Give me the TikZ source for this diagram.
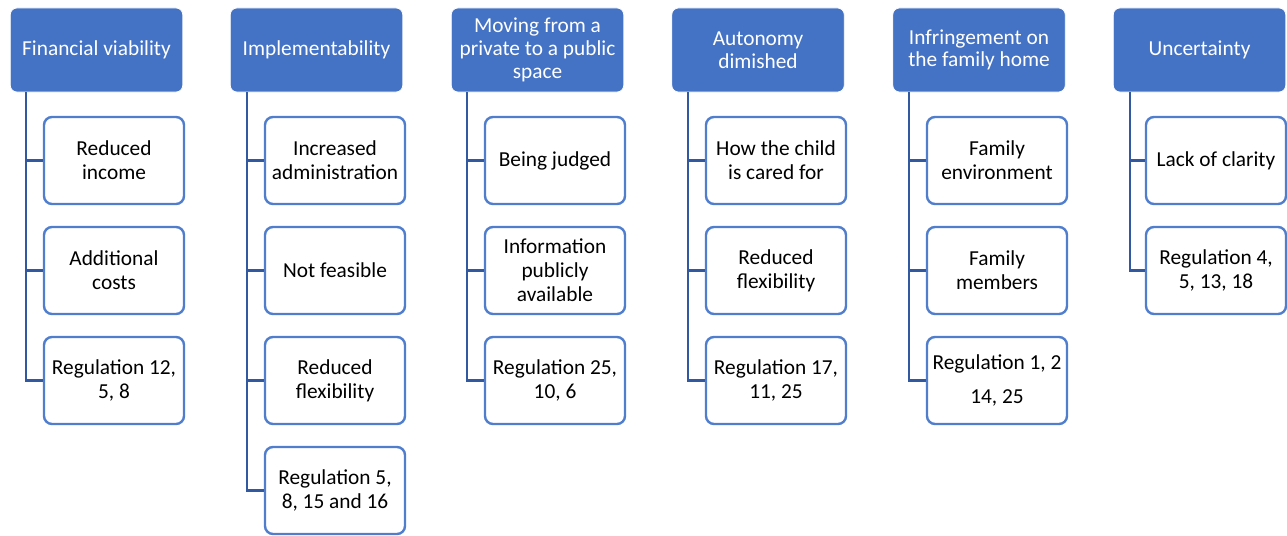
\documentclass[tikz,border=0pt]{standalone}
\usepackage{fontspec}
\setmainfont{Carlito}
\definecolor{hdrblue}{RGB}{68,114,196}
\definecolor{boxblue}{RGB}{80,126,205}
\definecolor{linkblue}{RGB}{50,88,160}
\begin{document}
\begin{tikzpicture}[x=0.75pt,y=-0.75pt,
  hdr/.style={rectangle,rounded corners=5pt,fill=hdrblue,draw=white,line width=0.6pt,
    minimum width=172.5*0.75pt,minimum height=84*0.75pt,inner sep=0pt,align=center,text=white,
    font=\fontsize{16}{17}\selectfont},
  child/.style={rectangle,rounded corners=6pt,fill=white,draw=boxblue,line width=1.8pt,
    minimum width=140*0.75pt,minimum height=87*0.75pt,inner sep=0pt,align=center,text=black,
    font=\fontsize{16}{18}\selectfont},
  link/.style={draw=linkblue,line width=1.8pt}]
\useasboundingbox (0,0) rectangle (1287,535);

% column 1
\node[hdr] (h1) at (96.5,50) {Financial viability};
\coordinate (v1) at (26,92);
\node[child] (c11) at (114,160.5) {Reduced\\income};
\node[child] (c12) at (114,270.5) {Additional\\costs};
\node[child] (c13) at (114,380.5) {Regulation 12,\\5, 8};

% column 2
\node[hdr] (h2) at (316.5,50) {Implementability};
\coordinate (v2) at (247,92);
\node[child] (c21) at (335,160.5) {Increased\\administration};
\node[child] (c22) at (335,270.5) {Not feasible};
\node[child] (c23) at (335,380.5) {Reduced\\flexibility};
\node[child] (c24) at (335,490.5) {Regulation 5,\\8, 15 and 16};

% column 3
\node[hdr] (h3) at (537.5,50) {Moving from a\\private to a public\\space};
\coordinate (v3) at (467,92);
\node[child] (c31) at (555,160.5) {Being judged};
\node[child] (c32) at (555,270.5) {Information\\publicly\\available};
\node[child] (c33) at (555,380.5) {Regulation 25,\\10, 6};

% column 4
\node[hdr] (h4) at (758,50) {Autonomy\\dimished};
\coordinate (v4) at (688,92);
\node[child] (c41) at (776,160.5) {How the child\\is cared for};
\node[child] (c42) at (776,270.5) {Reduced\\flexibility};
\node[child] (c43) at (776,380.5) {Regulation 17,\\11, 25};

% column 5
\node[hdr] (h5) at (979,50) {Infringement on\\the family home};
\coordinate (v5) at (909,92);
\node[child] (c51) at (997,160.5) {Family\\environment};
\node[child] (c52) at (997,270.5) {Family\\members};
\node[child] (c53) at (997,380.5) {Regulation 1, 2\\[7pt]14, 25};

% column 6
\node[hdr] (h6) at (1199.5,50) {Uncertainty};
\coordinate (v6) at (1130,92);
\node[child] (c61) at (1216,160.5) {Lack of clarity};
\node[child] (c62) at (1216,270.5) {Regulation 4,\\5, 13, 18};

% connectors
\draw[link] (v1) |- (c13.west);
\draw[link] (v1 |- c11.west) -- (c11.west);
\draw[link] (v1 |- c12.west) -- (c12.west);

\draw[link] (v2) |- (c24.west);
\draw[link] (v2 |- c21.west) -- (c21.west);
\draw[link] (v2 |- c22.west) -- (c22.west);
\draw[link] (v2 |- c23.west) -- (c23.west);

\draw[link] (v3) |- (c33.west);
\draw[link] (v3 |- c31.west) -- (c31.west);
\draw[link] (v3 |- c32.west) -- (c32.west);

\draw[link] (v4) |- (c43.west);
\draw[link] (v4 |- c41.west) -- (c41.west);
\draw[link] (v4 |- c42.west) -- (c42.west);

\draw[link] (v5) |- (c53.west);
\draw[link] (v5 |- c51.west) -- (c51.west);
\draw[link] (v5 |- c52.west) -- (c52.west);

\draw[link] (v6) |- (c62.west);
\draw[link] (v6 |- c61.west) -- (c61.west);
\end{tikzpicture}
\end{document}
